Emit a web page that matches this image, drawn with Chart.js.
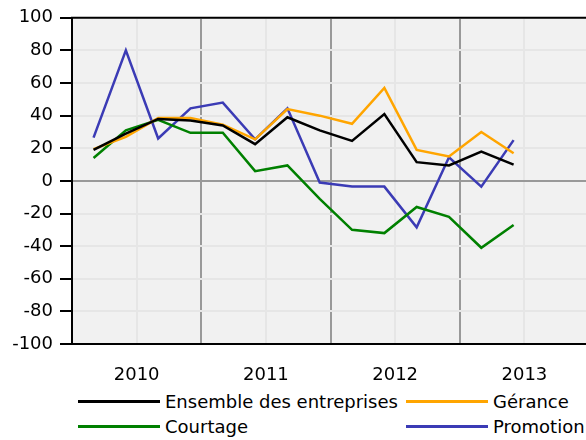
<!DOCTYPE html>
<html lang="fr">
<head>
<meta charset="utf-8">
<script src="https://cdn.jsdelivr.net/npm/chart.js@4"></script>
<style>
  html, body { margin: 0; padding: 0; background: #fff; overflow: hidden; }
  body { width: 586px; height: 440px; position: relative; font-family: "DejaVu Sans", sans-serif; }
  #wrap { position: absolute; left: 0; top: 0; width: 610px; height: 390px; }
  #legend {
    position: absolute; left: 78px; top: 390px;
    display: grid; grid-template-columns: 328px auto; row-gap: 3px;
    font-size: 18px; color: #000;
  }
  .item { display: flex; align-items: center; height: 22px; }
  .swatch { width: 82px; height: 3px; margin-right: 5px; }
</style>
</head>
<body>
<div id="wrap"><canvas id="chart" width="610" height="390"></canvas></div>
<div id="legend"></div>
<script>
// survey periods (year-month of each quarterly reading)
const periods = ['2010-03', '2010-06', '2010-09', '2010-12',
                 '2011-03', '2011-06', '2011-09', '2011-12',
                 '2012-03', '2012-06', '2012-09', '2012-12',
                 '2013-03', '2013-06'];
const years = [2010, 2011, 2012, 2013];

const ensemble  = [19, 29, 38, 37, 34, 22.5, 39, 31, 24.5, 41, 11.5, 9.5, 18, 10];
const gerance   = [19.5, 27, 38.5, 38.5, 34.5, 25.5, 44, 40, 35, 57, 19, 15, 30, 17];
const courtage  = [14, 31, 37.5, 29.5, 29.5, 6, 9.5, -11, -30, -32, -16, -22, -41, -27];
const promotion = [26.5, 80, 26, 44.5, 48, 25.5, 44.5, -1, -3.5, -3.5, -28.5, 14.5, -3.5, 25];

const yTicks = { min: -100, max: 100, step: 20 };

function periodToX(p) {
  let [y, m] = p.split('-').map(Number);
  return y + (m - 1) / 12;
}

function toPoints(values) {
  return values.map((v, i) => ({ x: periodToX(periods[i]), y: v }));
}

const series = [
  { label: 'Ensemble des entreprises', data: ensemble, color: '#000000' },
  { label: 'Gérance', data: gerance, color: '#ffa500' },
  { label: 'Courtage', data: courtage, color: '#008000' },
  { label: 'Promotion', data: promotion, color: '#3b3bb5' }
];

// plot background and top frame line
const frame = {
  id: 'frame',
  beforeDraw(chart) {
    let a = chart.chartArea, ctx = chart.ctx;
    ctx.save();
    ctx.fillStyle = '#f1f1f1';
    ctx.fillRect(a.left, a.top, a.right - a.left, a.bottom - a.top);
    ctx.restore();
  },
  afterDraw(chart) {
    let a = chart.chartArea, ctx = chart.ctx;
    ctx.save();
    ctx.strokeStyle = '#000';
    ctx.lineWidth = 2;
    ctx.beginPath();
    ctx.moveTo(a.left - 1, a.top);
    ctx.lineTo(a.right, a.top);
    ctx.stroke();
    ctx.restore();
  }
};

Chart.defaults.font.family = '"DejaVu Sans", sans-serif';
Chart.defaults.font.size = 18;
Chart.defaults.color = '#000';

const chart = new Chart(document.getElementById('chart'), {
  type: 'line',
  data: {
    datasets: series.map(s => ({
      label: s.label,
      data: toPoints(s.data),
      borderColor: s.color,
      backgroundColor: s.color,
      borderWidth: 2.5,
      pointRadius: 0,
      tension: 0
    }))
  },
  options: {
    responsive: false,
    animation: false,
    layout: { padding: { left: 0, right: 2, top: 0, bottom: 0 } },
    plugins: {
      legend: { display: false },
      tooltip: { enabled: false }
    },
    scales: {
      x: {
        type: 'linear',
        min: years[0],
        max: years[years.length - 1] + 1,
        afterFit: s => { s.height = 46; },
        afterBuildTicks: s => {
          let t = [];
          for (let v = s.min; v <= s.max; v += 0.5) t.push({ value: v });
          s.ticks = t;
        },
        ticks: {
          autoSkip: false,
          maxRotation: 0,
          padding: 21,
          callback: v => (v % 1 === 0.5 && years.includes(Math.floor(v))) ? String(Math.floor(v)) : ''
        },
        grid: {
          drawTicks: false,
          lineWidth: 2,
          color: c => (c.tick && c.tick.value % 1 === 0) ? '#999999' : '#e6e6e6'
        },
        border: { display: true, color: '#000', width: 2 }
      },
      y: {
        min: yTicks.min,
        max: yTicks.max,
        afterFit: s => { s.width = 72; },
        afterBuildTicks: s => {
          let t = [];
          for (let v = yTicks.min; v <= yTicks.max; v += yTicks.step) t.push({ value: v });
          s.ticks = t;
        },
        ticks: { padding: 7 },
        grid: {
          tickLength: 12,
          tickColor: '#000',
          lineWidth: 2,
          color: c => (c.tick && c.tick.value === 0) ? '#999999' : '#e6e6e6'
        },
        border: { display: true, color: '#000', width: 2 }
      }
    }
  },
  plugins: [frame]
});

// two-column legend under the plot
const legend = document.getElementById('legend');
chart.data.datasets.forEach(ds => {
  let item = document.createElement('div');
  item.className = 'item';
  item.innerHTML = `<span class="swatch" style="background:${ds.borderColor}"></span><span>${ds.label}</span>`;
  legend.appendChild(item);
});
</script>
</body>
</html>
